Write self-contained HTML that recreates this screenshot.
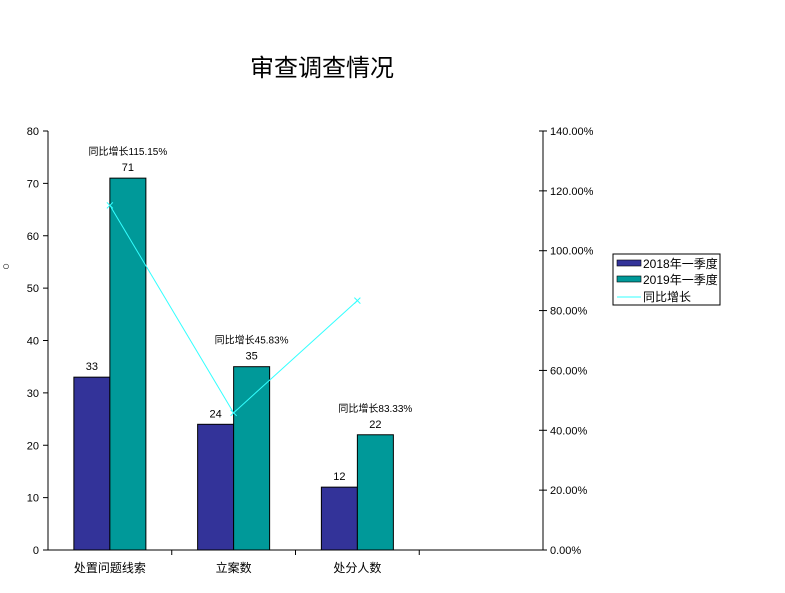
<!DOCTYPE html>
<html><head><meta charset="utf-8"><style>
body{margin:0;background:#fff;width:785px;height:588px;overflow:hidden;font-family:"Liberation Sans","Noto Sans CJK SC",sans-serif}
</style></head><body>
<svg width="785" height="588" xmlns="http://www.w3.org/2000/svg" font-family="Liberation Sans, Noto Sans CJK SC, sans-serif">
<text x="322" y="76" font-size="24" text-anchor="middle">审查调查情况</text>
<text x="6" y="270" font-size="12" text-anchor="middle">○</text>
<g id="g"></g>
<g>
<rect x="613" y="254" width="107" height="51" fill="#fff" stroke="#000"/>
<rect x="617" y="260" width="24" height="6" fill="#333399" stroke="#000" stroke-width="0.6"/>
<text x="643" y="268" font-size="12">2018年一季度</text>
<rect x="617" y="276" width="24" height="6" fill="#009999" stroke="#000" stroke-width="0.6"/>
<text x="643" y="284" font-size="12">2019年一季度</text>
<line x1="617" y1="297" x2="641" y2="297" stroke="#33ffff"/>
<text x="643" y="301" font-size="12">同比增长</text>
</g>
</svg>
<script>
const categories=["处置问题线索","立案数","处分人数"];
const s2018=[33,24,12];
const s2019=[71,35,22];
const growth=[115.15,45.83,83.33];
const leftTicks=[0,10,20,30,40,50,60,70,80];
const rightTicks=[0,20,40,60,80,100,120,140];
const g=document.getElementById('g');
const NS='http://www.w3.org/2000/svg';
const X0=48,X1=543,Y0=550,Y1=131,slot=(X1-X0)/4;
const yL=v=>Y0-v/80*(Y0-Y1);
const yR=v=>Y0-v/140*(Y0-Y1);
function el(t,a){const e=document.createElementNS(NS,t);for(const k in a)e.setAttribute(k,a[k]);g.appendChild(e);return e;}
let e;
e=el('line',{x1:X0,y1:Y1,x2:X0,y2:Y0,stroke:'#000'});


e=el('line',{x1:X1,y1:Y1,x2:X1,y2:Y0,stroke:'#000'});


e=el('line',{x1:X0,y1:Y0,x2:X1,y2:Y0,stroke:'#000'});


leftTicks.forEach(v=>{const y=yL(v);el('line',{x1:X0-5,y1:y,x2:X0,y2:y,stroke:'#000'});
e=el('text',{x:X0-9,y:y+4,'font-size':11,'text-anchor':'end'});e.textContent=v;

});
rightTicks.forEach(v=>{const y=yR(v);el('line',{x1:X1-4,y1:y,x2:X1+4,y2:y,stroke:'#000'});
e=el('text',{x:X1+7,y:y+4,'font-size':11});e.textContent=v.toFixed(2)+'%';

});
for(let i=1;i<4;i++){el('line',{x1:X0+slot*i,y1:Y0,x2:X0+slot*i,y2:Y0+5,stroke:'#000'});}
const pts=[];
categories.forEach((c,i)=>{
 const cx=X0+slot*i+slot/2, bw=36;
 e=el('rect',{x:cx-bw,y:yL(s2018[i]),width:bw,height:Y0-yL(s2018[i]),fill:'#333399',stroke:'#000'});
 
 
 e=el('rect',{x:cx,y:yL(s2019[i]),width:bw,height:Y0-yL(s2019[i]),fill:'#009999',stroke:'#000'});
 
 
 e=el('text',{x:cx-bw/2,y:yL(s2018[i])-7,'font-size':11,'text-anchor':'middle'});e.textContent=s2018[i];
 
 
 e=el('text',{x:cx+bw/2,y:yL(s2019[i])-7,'font-size':11,'text-anchor':'middle'});e.textContent=s2019[i];
 
 
 e=el('text',{x:cx+bw/2,y:yL(s2019[i])-23,'font-size':10,'text-anchor':'middle'});e.textContent='同比增长'+growth[i].toFixed(2)+'%';
 
 
 e=el('text',{x:cx,y:Y0+22,'font-size':12,'text-anchor':'middle'});e.textContent=c;
 
 
 pts.push([cx,yR(growth[i])]);
});
e=el('polyline',{points:pts.map(p=>p.join(',')).join(' '),fill:'none',stroke:'#33ffff','stroke-width':1});


pts.forEach(p=>{e=el('path',{d:`M${p[0]-3},${p[1]-3}L${p[0]+3},${p[1]+3}M${p[0]-3},${p[1]+3}L${p[0]+3},${p[1]-3}`,stroke:'#33ffff'});

});
</script>
</body></html>
